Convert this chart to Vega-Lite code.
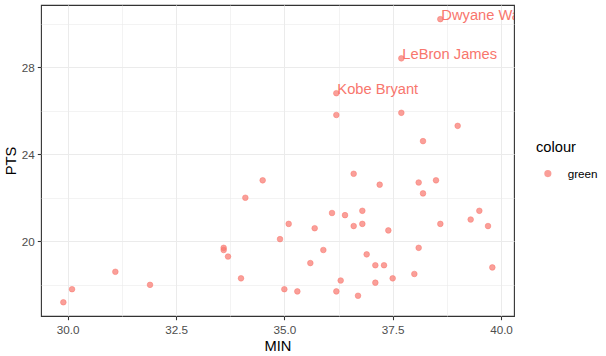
{
  "$schema": "https://vega.github.io/schema/vega-lite/v6.json",
  "width": 473,
  "height": 311,
  "autosize": {"type": "none"},
  "padding": {"left": 41, "top": 5, "right": 92, "bottom": 40},
  "background": "white",
  "config": {
    "view": {"stroke": "#333333", "strokeWidth": 1.1},
    "font": "Liberation Sans",
    "axis": {
      "labelFont": "Liberation Sans",
      "labelFontSize": 11.7,
      "labelColor": "#4D4D4D",
      "tickColor": "#333333",
      "tickSize": 3.7,
      "tickWidth": 1.07,
      "gridColor": "#EBEBEB",
      "gridWidth": 1.07,
      "domain": false,
      "titleFont": "Liberation Sans",
      "titleFontSize": 14.7,
      "titleFontWeight": "normal",
      "titleColor": "#000000"
    },
    "legend": {
      "titleFont": "Liberation Sans",
      "titleFontSize": 14.7,
      "titleFontWeight": "normal",
      "titleColor": "#000000",
      "labelFont": "Liberation Sans",
      "labelFontSize": 11.7,
      "labelColor": "#000000"
    }
  },
  "data": {
    "values": [
      {"MIN": 29.9, "PTS": 17.2, "name": "", "colour": "green"},
      {"MIN": 30.1, "PTS": 17.8, "name": "", "colour": "green"},
      {"MIN": 31.1, "PTS": 18.6, "name": "", "colour": "green"},
      {"MIN": 31.9, "PTS": 18.0, "name": "", "colour": "green"},
      {"MIN": 33.6, "PTS": 19.7, "name": "", "colour": "green"},
      {"MIN": 33.6, "PTS": 19.6, "name": "", "colour": "green"},
      {"MIN": 33.7, "PTS": 19.3, "name": "", "colour": "green"},
      {"MIN": 34.0, "PTS": 18.3, "name": "", "colour": "green"},
      {"MIN": 34.1, "PTS": 22.0, "name": "", "colour": "green"},
      {"MIN": 34.5, "PTS": 22.8, "name": "", "colour": "green"},
      {"MIN": 34.9, "PTS": 20.1, "name": "", "colour": "green"},
      {"MIN": 35.1, "PTS": 20.8, "name": "", "colour": "green"},
      {"MIN": 35.0, "PTS": 17.8, "name": "", "colour": "green"},
      {"MIN": 35.3, "PTS": 17.7, "name": "", "colour": "green"},
      {"MIN": 36.6, "PTS": 23.1, "name": "", "colour": "green"},
      {"MIN": 37.2, "PTS": 22.6, "name": "", "colour": "green"},
      {"MIN": 38.1, "PTS": 22.7, "name": "", "colour": "green"},
      {"MIN": 38.5, "PTS": 22.8, "name": "", "colour": "green"},
      {"MIN": 38.2, "PTS": 22.2, "name": "", "colour": "green"},
      {"MIN": 36.1, "PTS": 21.3, "name": "", "colour": "green"},
      {"MIN": 36.4, "PTS": 21.2, "name": "", "colour": "green"},
      {"MIN": 36.8, "PTS": 21.4, "name": "", "colour": "green"},
      {"MIN": 36.8, "PTS": 20.8, "name": "", "colour": "green"},
      {"MIN": 36.6, "PTS": 20.7, "name": "", "colour": "green"},
      {"MIN": 35.7, "PTS": 20.6, "name": "", "colour": "green"},
      {"MIN": 37.4, "PTS": 20.5, "name": "", "colour": "green"},
      {"MIN": 38.6, "PTS": 20.8, "name": "", "colour": "green"},
      {"MIN": 39.3, "PTS": 21.0, "name": "", "colour": "green"},
      {"MIN": 39.5, "PTS": 21.4, "name": "", "colour": "green"},
      {"MIN": 39.7, "PTS": 20.7, "name": "", "colour": "green"},
      {"MIN": 35.9, "PTS": 19.6, "name": "", "colour": "green"},
      {"MIN": 35.6, "PTS": 19.0, "name": "", "colour": "green"},
      {"MIN": 36.9, "PTS": 19.4, "name": "", "colour": "green"},
      {"MIN": 38.1, "PTS": 19.7, "name": "", "colour": "green"},
      {"MIN": 37.1, "PTS": 18.9, "name": "", "colour": "green"},
      {"MIN": 37.3, "PTS": 18.9, "name": "", "colour": "green"},
      {"MIN": 39.8, "PTS": 18.8, "name": "", "colour": "green"},
      {"MIN": 36.3, "PTS": 18.2, "name": "", "colour": "green"},
      {"MIN": 37.5, "PTS": 18.3, "name": "", "colour": "green"},
      {"MIN": 38.0, "PTS": 18.5, "name": "", "colour": "green"},
      {"MIN": 37.1, "PTS": 18.1, "name": "", "colour": "green"},
      {"MIN": 36.2, "PTS": 17.7, "name": "", "colour": "green"},
      {"MIN": 36.7, "PTS": 17.5, "name": "", "colour": "green"},
      {"MIN": 38.6, "PTS": 30.2, "name": "Dwyane Wade", "colour": "green"},
      {"MIN": 37.7, "PTS": 28.4, "name": "LeBron James", "colour": "green"},
      {"MIN": 36.2, "PTS": 26.8, "name": "Kobe Bryant", "colour": "green"},
      {"MIN": 36.2, "PTS": 25.8, "name": "", "colour": "green"},
      {"MIN": 37.7, "PTS": 25.9, "name": "", "colour": "green"},
      {"MIN": 39.0, "PTS": 25.3, "name": "", "colour": "green"},
      {"MIN": 38.2, "PTS": 24.6, "name": "", "colour": "green"}
    ]
  },
  "resolve": {"axis": {"x": "independent", "y": "independent"}},
  "layer": [
    {
      "mark": {"type": "point", "filled": true, "fillOpacity": 0.7, "stroke": "#F8766D", "strokeOpacity": 0.7, "strokeWidth": 0.7, "size": 32},
      "encoding": {
        "x": {
          "field": "MIN", "type": "quantitative",
          "scale": {"domain": [29.384, 40.3], "nice": false, "zero": false},
          "axis": {"values": [30, 32.5, 35, 37.5, 40], "format": ".1f", "labelPadding": 5, "title": "MIN", "titleX": 236.5, "titleY": 34, "titleBaseline": "alphabetic", "titleAlign": "center"}
        },
        "y": {
          "field": "PTS", "type": "quantitative",
          "scale": {"domain": [16.57, 30.85], "nice": false, "zero": false},
          "axis": {"values": [20, 24, 28], "labelPadding": 3, "title": "PTS", "titleX": -26, "titleY": 155.5, "titleAngle": -90, "titleBaseline": "alphabetic", "titleAlign": "center"}
        },
        "color": {
          "field": "colour", "type": "nominal",
          "scale": {"range": ["#F8766D"]},
          "legend": {"title": "colour", "orient": "none", "legendX": 495, "legendY": 135, "padding": 0, "titlePadding": 13, "titleAnchor": "start", "titleAlign": "left", "symbolType": "circle", "symbolSize": 32, "symbolOffset": 6, "labelOffset": 14, "symbolOpacity": 0.7}
        }
      }
    },
    {
      "mark": {"type": "text", "align": "left", "baseline": "alphabetic", "dx": 1, "dy": 1, "fontSize": 14.7, "font": "Liberation Sans", "color": "#F8766D", "clip": true},
      "encoding": {
        "x": {"field": "MIN", "type": "quantitative", "axis": {"orient": "top", "values": [31.25, 33.75, 36.25, 38.75], "grid": true, "gridWidth": 0.6, "labels": false, "ticks": false, "domain": false, "title": null}},
        "y": {"field": "PTS", "type": "quantitative", "axis": {"orient": "right", "values": [18, 22, 26, 30], "grid": true, "gridWidth": 0.6, "labels": false, "ticks": false, "domain": false, "title": null}},
        "text": {"field": "name"}
      }
    }
  ]
}
